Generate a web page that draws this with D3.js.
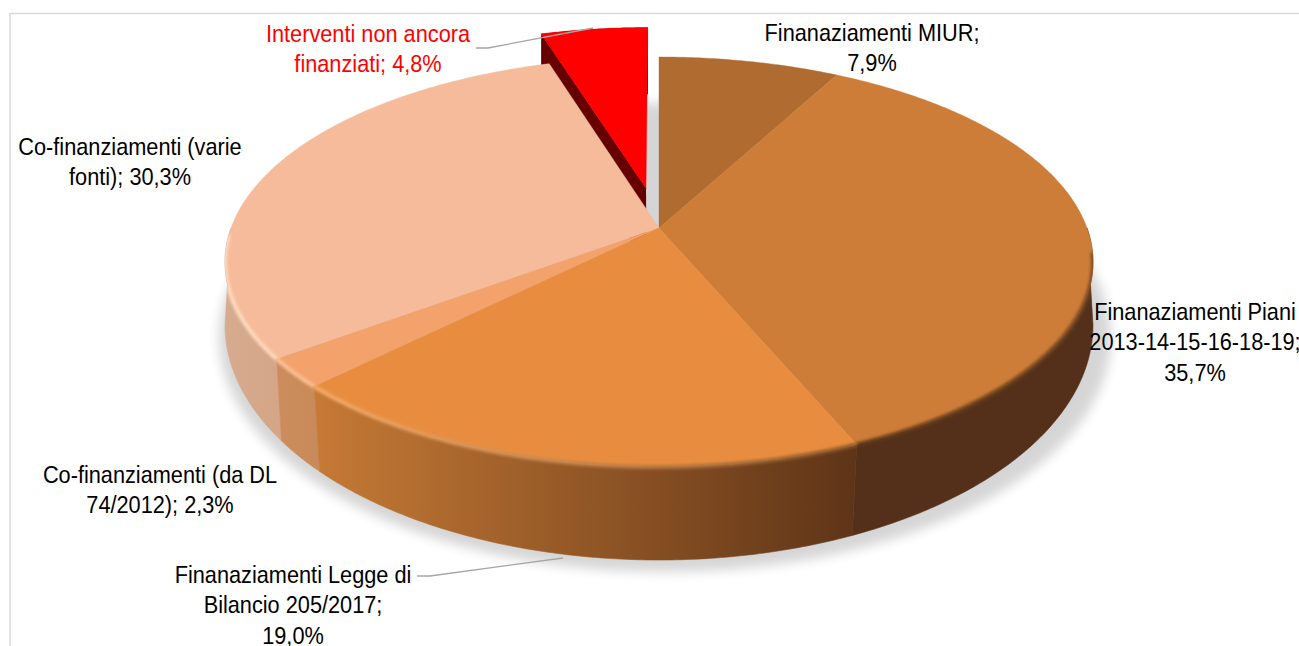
<!DOCTYPE html>
<html>
<head>
<meta charset="utf-8">
<script src="https://d3js.org/d3.v7.min.js"></script>
<style>
body { margin: 0; background: #fff; overflow: hidden; }
text { font-family: "Liberation Sans", Arial, sans-serif; font-size: 24px; }
</style>
</head>
<body>
<script>

// Data
var categories = ["Finanaziamenti MIUR", "Finanaziamenti Piani 2013-14-15-16-18-19", "Finanaziamenti Legge di Bilancio 205/2017",
                  "Co-finanziamenti (da DL 74/2012)", "Co-finanziamenti (varie fonti)", "Interventi non ancora finanziati"];
var values = [7.9, 35.7, 19.0, 2.3, 30.3, 4.8];

// Colours, same order as the categories
var topColors = ["#b06c30", "#cd7d38", "#e88d40", "#f3a26c", "#f5bb9b", "#ff0000"];
var wallFrom = ["#7a4a22", "#54301a", "#c67a35", "#cc8c5c", "#d6ab8e", "#660000"];
var wallTo = ["#7a4a22", "#54301a", "#5e3417", "#c98a5a", "#d4a587", "#660000"];
var rimFrom = ["#7a4a22", "#5f3719", "#f6ad69", "#fcc499", "#ffdcc2", "#660000"];
var rimTo = ["#7a4a22", "#7a4a22", "#8a5628", "#fcbc8c", "#ffd8bc", "#660000"];

// Label placement: centre x, first baseline, wrap length
var labelX = [872, 1195, 293, 160, 130, 368];
var labelY = [41, 320, 583, 483, 155, 42];
var labelWrap = [20, 24, 23, 23, 23, 21];
var labelFill = ["#000", "#000", "#000", "#000", "#000", "#f00"];
var lineGap = 30.5;
var narrow = 0.906; // the original font is a narrow one

// Leader lines
var leaders = [
  [[476, 48], [488, 48], [593, 28]],
  [[417, 576], [430, 576], [563, 558]]
];

var width = 1299, height = 646;

// Perspective of the pie: unit disc to screen
var cx = 659, cy = 228;
var persp = -0.166, scaleX = 428, scaleY = 199.4;
var wallH = 80, wallShrink = 0.98;
var explode = 0.209; // how far the red slice is pulled out

// lower outline of the front wall is its own ellipse
var baseCy = 325, baseRx = 434, baseRy = 235;

function project(u, v) {
  var d = 1 + persp * v;
  return [cx + scaleX * u / d, cy + scaleY * v / d];
}
// back part, only used for the red slice
function projectBottom(u, v) {
  var p = project(u, v);
  return [cx + (p[0] - cx) * wallShrink, p[1] + wallH / (1 + persp * v)];
}
// front part, lands on the base ellipse
function projectBase(u, v) {
  // above the widest point everything collapses on the ellipse tip
  if (v < 0.17) return [cx + (u < 0 ? -baseRx : baseRx), baseCy];
  var p = project(u, v);
  var k = 1 - 0.03 * (v - 0.17);
  var dx = (p[0] - cx) * k;
  var s = Math.sqrt(Math.max(0, 1 - (dx / baseRx) * (dx / baseRx)));
  return [cx + dx, baseCy + baseRy * s];
}

var svg = d3.select("body").append("svg")
    .attr("width", width)
    .attr("height", height);
var defs = svg.append("defs");

defs.append("filter").attr("id", "shadowBlur")
    .attr("x", "-10%").attr("y", "-10%").attr("width", "120%").attr("height", "120%")
  .append("feGaussianBlur").attr("stdDeviation", 6);
defs.append("filter").attr("id", "rimBlur")
    .attr("filterUnits", "userSpaceOnUse")
    .attr("x", 0).attr("y", 0).attr("width", width).attr("height", height)
  .append("feGaussianBlur").attr("stdDeviation", 1.4);

function hGradient(id, x1, x2, c1, c2) {
  var g = defs.append("linearGradient").attr("id", id)
      .attr("gradientUnits", "userSpaceOnUse")
      .attr("x1", x1).attr("x2", x2).attr("y1", 0).attr("y2", 0);
  g.append("stop").attr("offset", 0).attr("stop-color", c1);
  g.append("stop").attr("offset", 1).attr("stop-color", c2);
  return "url(#" + id + ")";
}

// chart area border, runs off the picture on the right and at the bottom
svg.append("rect")
    .attr("x", 10).attr("y", 13.5)
    .attr("width", width + 20).attr("height", height + 20)
    .attr("fill", "#fff")
    .attr("stroke", "#d9d9d9")
    .attr("stroke-width", 1.5);

var pie = d3.pie().sort(null).value(function(d) { return d; });
var arcs = pie(values);
var line = d3.line();

// Points along a slice edge, offset for the exploded slice
function edgePoints(a0, a1, off, fn) {
  var n = Math.max(2, Math.ceil((a1 - a0) / 0.01));
  return d3.range(n + 1).map(function(i) {
    var a = a0 + (a1 - a0) * i / n;
    return fn(Math.sin(a) + off[0], -Math.cos(a) + off[1]);
  });
}

function offsetOf(d, i) {
  if (i !== 5) return [0, 0];
  var mid = (d.startAngle + d.endAngle) / 2;
  return [Math.sin(mid) * explode, -Math.cos(mid) * explode];
}

// drop shadow under the whole pie
svg.append("ellipse")
    .attr("cx", 665).attr("cy", 337.5)
    .attr("rx", 446).attr("ry", 234.5)
    .attr("fill", "#000")
    .attr("opacity", 0.16)
    .attr("filter", "url(#shadowBlur)");

// the red slice goes first, the rest of the pie sits in front of it
var order = [5, 0, 4, 3, 1, 2];
var frontStart = Math.PI / 2, frontEnd = 3 * Math.PI / 2;

// rim blur must not spill on the white around the pie
var pieClip = defs.append("clipPath").attr("id", "pieClip");
pieClip.append("path")
    .attr("d", line(edgePoints(0, 2 * Math.PI, [0, 0], project)) + "Z");

// walls
order.forEach(function(i) {
  var d = arcs[i], off = offsetOf(d, i);
  if (i === 5) {
    var topEdge = edgePoints(d.startAngle, d.endAngle, off, project);
    var botEdge = edgePoints(d.startAngle, d.endAngle, off, projectBottom);
    var tipT = project(off[0], off[1]), tipB = projectBottom(off[0], off[1]);
    svg.append("path")
        .attr("d", line([tipT].concat(topEdge, botEdge.reverse(), [tipB])) + "Z")
        .attr("fill", wallFrom[i]);
    // left face drops straight down behind the next slice
    svg.append("path")
        .attr("d", line([tipT, topEdge[0], [topEdge[0][0], topEdge[0][1] + 40], tipB]) + "Z")
        .attr("fill", wallFrom[i]);
    return;
  }
  var a0 = Math.max(d.startAngle, frontStart), a1 = Math.min(d.endAngle, frontEnd);
  if (a0 >= a1) return;
  var t = edgePoints(a0, a1, off, project);
  var b = edgePoints(a0, a1, off, projectBase);
  var fill = wallFrom[i];
  if (wallFrom[i] !== wallTo[i]) {
    var xs = t.concat(b).map(function(p) { return p[0]; });
    fill = hGradient("wall" + i, d3.min(xs), d3.max(xs), wallFrom[i], wallTo[i]);
  }
  var wallPath = line(t.concat(b.reverse())) + "Z";
  pieClip.append("path").attr("d", wallPath);
  svg.append("path")
      .attr("d", wallPath)
      .attr("fill", fill)
      .attr("stroke", fill)
      .attr("stroke-width", 0.6);
});

// top faces
[5, 0, 1, 4, 3, 2].forEach(function(i) {
  var d = arcs[i], off = offsetOf(d, i);
  var pts = [project(off[0], off[1])].concat(edgePoints(d.startAngle, d.endAngle, off, project));
  svg.append("path")
      .attr("d", line(pts) + "Z")
      .attr("fill", topColors[i])
      .attr("stroke", topColors[i])
      .attr("stroke-width", 0.4);
});

// soft bevel along the front rim
var rimStart = Math.PI / 2 + 0.12, rimEnd = 268 * Math.PI / 180;
var rimLayer = svg.append("g").attr("clip-path", "url(#pieClip)");
[1, 4, 3, 2].forEach(function(i) {
  var d = arcs[i];
  var a0 = Math.max(d.startAngle, rimStart), a1 = Math.min(d.endAngle, rimEnd);
  var pts = edgePoints(a0, a1, [0, 0], project);
  var xs = pts.map(function(p) { return p[0]; });
  rimLayer.append("path")
      .attr("d", line(pts))
      .attr("fill", "none")
      .attr("stroke", hGradient("rim" + i, d3.min(xs), d3.max(xs), rimFrom[i], rimTo[i]))
      .attr("stroke-width", 4)
      .attr("filter", "url(#rimBlur)");
});

// leader lines
svg.selectAll(".leader")
    .data(leaders)
    .enter().append("path")
    .attr("class", "leader")
    .attr("d", line)
    .attr("fill", "none")
    .attr("stroke", "#a6a6a6")
    .attr("stroke-width", 1.3);

// word wrap for the labels
function wrap(str, max) {
  var lines = [], cur = "";
  str.split(" ").forEach(function(w) {
    if (cur && (cur + " " + w).length > max) { lines.push(cur); cur = w; }
    else cur = cur ? cur + " " + w : w;
  });
  lines.push(cur);
  return lines;
}

categories.forEach(function(name, i) {
  var label = name + "; " + values[i].toFixed(1).replace(".", ",") + "%";
  var t = svg.append("text")
      .attr("transform", "translate(" + labelX[i] + ",0) scale(" + narrow + ",1)")
      .attr("text-anchor", "middle")
      .attr("fill", labelFill[i]);
  wrap(label, labelWrap[i]).forEach(function(s, k) {
    t.append("tspan")
        .attr("x", 0)
        .attr("y", labelY[i] + k * lineGap)
        .text(s);
  });
});

</script>
</body>
</html>
